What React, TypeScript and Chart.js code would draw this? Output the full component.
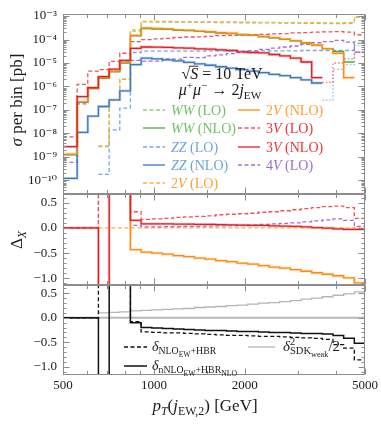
import React, { useEffect, useRef } from "react";
import { Chart, registerables } from "chart.js";

Chart.register(...registerables);

// ---------------- data ----------------
const binEdges = [500, 557, 604, 655, 711, 771, 836, 907, 984, 1067, 1158, 1256, 1362, 1477, 1602, 1738, 1885, 2045, 2218, 2406, 2609, 2830, 3070, 3330, 3612, 3917, 4249, 4609, 5000];

// sigma per bin [pb]; null = no entry, negative = drawn dotted as |value|
const wwLO = [null, null, null, 2.7e-9, 2.6e-7, 2.0e-6, 2.3e-4, 5.7e-4, 5.6e-4, 5.6e-4, 5.5e-4, 5.5e-4, 5.4e-4, 5.4e-4, 5.3e-4, 5.3e-4, 5.2e-4, 5.2e-4, 5.1e-4, 5.1e-4, 5.0e-4, 5.0e-4, 4.9e-4, 4.9e-4, 4.8e-4, 4.8e-4, 4.9e-4, 8.8e-4];
const wwNLO = [1.2e-9, 2.1e-7, 8.1e-7, 2.2e-6, 4.2e-6, 1.0e-5, 1.42e-4, 2.94e-4, 2.8e-4, 2.72e-4, 2.48e-4, 2.4e-4, 2.21e-4, 2.07e-4, 1.88e-4, 1.79e-4, 1.6e-4, 1.5e-4, 1.31e-4, 1.17e-4, 1.02e-4, 8.8e-5, 7.1e-5, 5.6e-5, 4.1e-5, 3.1e-5, 1.1e-5, -5.5e-5];
const zzLO = [null, null, null, 1.8e-10, 1.4e-8, 1.2e-7, 2.8e-5, 3.2e-5, 3.2e-5, 3.2e-5, 3.2e-5, 3.2e-5, 3.2e-5, 3.3e-5, 3.3e-5, 3.3e-5, 3.3e-5, 3.3e-5, 3.3e-5, 3.3e-5, 3.3e-5, 3.3e-5, 3.4e-5, 3.4e-5, 3.4e-5, 3.4e-5, 3.4e-5, 6.9e-5];
const zzNLO = [1.2e-10, 1.1e-8, 5.4e-8, 1.4e-7, 2.7e-7, 6.5e-7, 8.5e-6, 1.6e-5, 1.5e-5, 1.35e-5, 1.23e-5, 1.06e-5, 9.2e-6, 8.0e-6, 6.9e-6, 6.0e-6, 5.2e-6, 4.5e-6, 3.9e-6, 3.3e-6, 2.9e-6, 2.4e-6, 1.9e-6, 1.4e-6, -2.6e-7, -5.3e-6, -8.5e-6, -3.0e-5];
const v2LO = [null, null, null, 2.9e-9, 2.7e-7, 2.1e-6, 2.6e-4, 6.0e-4, 5.9e-4, 5.9e-4, 5.8e-4, 5.8e-4, 5.7e-4, 5.7e-4, 5.6e-4, 5.6e-4, 5.5e-4, 5.5e-4, 5.4e-4, 5.4e-4, 5.3e-4, 5.3e-4, 5.2e-4, 5.2e-4, 5.1e-4, 5.1e-4, 5.2e-4, 9.5e-4];
const v2NLO = [1.3e-9, 2.2e-7, 8.6e-7, 2.3e-6, 4.5e-6, 1.07e-5, 1.5e-4, 3.1e-4, 2.95e-4, 2.85e-4, 2.6e-4, 2.5e-4, 2.3e-4, 2.15e-4, 1.95e-4, 1.85e-4, 1.65e-4, 1.55e-4, 1.35e-4, 1.2e-4, 1.05e-4, 9.0e-5, 7.3e-5, 5.7e-5, 4.1e-5, 2.6e-5, 2.4e-6, -8.5e-5];
const v3LO = [7.1e-9, 1.23e-6, 4.5e-6, 5.2e-6, 1.17e-5, 2.6e-5, 8.1e-5, 1.0e-4, 1.06e-4, 1.12e-4, 1.22e-4, 1.28e-4, 1.31e-4, 1.37e-4, 1.46e-4, 1.51e-4, 1.54e-4, 1.6e-4, 1.67e-4, 1.73e-4, 1.8e-4, 1.91e-4, 1.98e-4, 2.08e-4, 2.14e-4, 2.19e-4, 2.08e-4, 1.6e-4];
const v3NLO = [2.7e-9, 3.7e-7, 8.8e-7, 2.6e-6, 5.5e-6, 1.3e-5, 4.2e-5, 4.8e-5, 4.7e-5, 4.6e-5, 4.4e-5, 4.3e-5, 4.0e-5, 3.9e-5, 3.6e-5, 3.4e-5, 3.0e-5, 2.8e-5, 2.7e-5, 2.3e-5, 2.0e-5, 1.6e-5, 1.1e-5, 2.4e-6, -1.5e-6, -1.0e-5, -1.5e-5, -2.8e-5];
const v4LO = [5.8e-10, 1.8e-7, 8.3e-7, 2.3e-6, 4.4e-6, 1.1e-5, 1.3e-5, 1.2e-5, 1.2e-5, 1.5e-5, 1.45e-5, 1.75e-5, 1.7e-5, 2.0e-5, 2.2e-5, 2.5e-5, 2.75e-5, 3.3e-5, 3.8e-5, 4.3e-5, 4.8e-5, 5.3e-5, 6.2e-5, 7.3e-5, 8.2e-5, 9.2e-5, 7.8e-5, 2.9e-5];

// Delta_X (middle panel); +-5 are off-scale entries
const dV2LO = [null, null, null, 0, 0, 0, 0, 0, 0, 0, 0, 0, 0, 0, 0, 0, 0, 0, 0, 0, 0, 0, 0, 0, 0, 0, 0, 0];
const dV2NLO = [null, null, null, 5, 5, 5, -0.43, -0.48, -0.5, -0.52, -0.55, -0.57, -0.6, -0.62, -0.65, -0.67, -0.7, -0.72, -0.75, -0.78, -0.8, -0.83, -0.86, -0.89, -0.92, -0.95, -0.99, -1.09];
const dV3LO = [0, 0, 0, 5, 5, 5, 0.32, 0.17, 0.18, 0.19, 0.21, 0.22, 0.23, 0.24, 0.26, 0.27, 0.28, 0.29, 0.31, 0.32, 0.34, 0.36, 0.38, 0.4, 0.42, 0.43, 0.4, 0.19];
const dV3NLO = [0, 0, 0, -5, 5, 5, 0.15, 0.08, 0.08, 0.08, 0.075, 0.075, 0.07, 0.07, 0.065, 0.06, 0.055, 0.05, 0.05, 0.04, 0.035, 0.03, 0.02, 0.005, -0.005, -0.02, -0.03, -0.03];
const dV4LO = [0, 0, 0, 5, 5, 5, 0.05, 0.02, 0.02, 0.025, 0.025, 0.03, 0.03, 0.035, 0.04, 0.045, 0.05, 0.06, 0.07, 0.08, 0.09, 0.1, 0.12, 0.14, 0.16, 0.18, 0.15, 0.03];

// delta (bottom panel)
const dNLOHBR = [0, 0, 0, 5, 5, 5, -0.08, -0.29, -0.3, -0.31, -0.31, -0.32, -0.33, -0.34, -0.35, -0.36, -0.36, -0.37, -0.38, -0.38, -0.39, -0.4, -0.41, -0.42, -0.44, -0.55, -0.62, -0.86];
const dNNLO = [0, 0, 0, -5, 5, 5, -0.1, -0.2, -0.21, -0.22, -0.23, -0.24, -0.25, -0.26, -0.26, -0.27, -0.28, -0.28, -0.29, -0.3, -0.3, -0.31, -0.32, -0.32, -0.33, -0.36, -0.42, -0.52];
const dSDK = [null, null, null, 0.1, 0.11, 0.12, 0.14, 0.15, 0.16, 0.17, 0.18, 0.19, 0.21, 0.22, 0.23, 0.25, 0.26, 0.28, 0.3, 0.31, 0.33, 0.35, 0.38, 0.4, 0.43, 0.46, 0.49, 0.53];

// ticks
const topTickExps = [-10, -9, -8, -7, -6, -5, -4, -3];
const deltaTicks = [-1, -0.5, 0, 0.5];
const xMajor = [500, 1000, 2000, 5000];
const xMinor = [600, 700, 800, 900, 1500, 3000, 4000];

// ---------------- style ----------------
const FONT = "'Liberation Serif', 'DejaVu Serif', serif";
const COL = {
  wwLO: "#86cf79", wwNLO: "#4aad3c",
  zzLO: "#74a9df", zzNLO: "#3a77bf",
  v2LO: "#ffad4a", v2NLO: "#ff8a12",
  v3LO: "#ef5359", v3NLO: "#e31e25",
  v4LO: "#a66cc9",
};
const TXT = { ww: "#6fc462", zz: "#6fa3db", v2: "#ffa033", v3: "#e8343a", v4: "#9f6cc3" };

const SUP: Record<string, string> = { "-": "⁻", "0": "⁰", "1": "¹", "2": "²", "3": "³", "4": "⁴", "5": "⁵", "6": "⁶", "7": "⁷", "8": "⁸", "9": "⁹" };
const supStr = (s: string) => s.split("").map((c) => SUP[c] ?? c).join("");

type Seg = { t: string; it?: boolean; lvl?: number; stack?: boolean; over?: boolean };

function segSize(s: Seg, size: number) {
  const l = s.lvl ?? 0;
  return l === 0 ? size : Math.abs(l) === 1 ? size * 0.7 : size * 0.55;
}
function segDy(s: Seg, size: number) {
  const l = s.lvl ?? 0;
  if (l === 1) return -0.38 * size;
  if (l === -1) return 0.22 * size;
  if (l === -2) return 0.4 * size;
  return 0;
}
function setFont(ctx: CanvasRenderingContext2D, s: Seg, size: number) {
  ctx.font = `${s.it ? "italic " : ""}${segSize(s, size).toFixed(2)}px ${FONT}`;
}
function richWidth(ctx: CanvasRenderingContext2D, segs: Seg[], size: number) {
  let w = 0;
  for (const s of segs) {
    setFont(ctx, s, size);
    if (!s.stack) w += ctx.measureText(s.t).width;
  }
  return w;
}
function drawRich(ctx: CanvasRenderingContext2D, segs: Seg[], x: number, y: number, size: number, color: string, align: "left" | "center" = "left") {
  ctx.save();
  ctx.fillStyle = color;
  ctx.strokeStyle = color;
  ctx.textBaseline = "alphabetic";
  ctx.textAlign = "left";
  let cx = align === "center" ? x - richWidth(ctx, segs, size) / 2 : x;
  for (const s of segs) {
    setFont(ctx, s, size);
    const w = ctx.measureText(s.t).width;
    ctx.fillText(s.t, cx, y + segDy(s, size));
    if (s.over) {
      ctx.lineWidth = 0.9;
      ctx.beginPath();
      ctx.moveTo(cx - 1, y - 0.8 * size);
      ctx.lineTo(cx + w, y - 0.8 * size);
      ctx.stroke();
    }
    if (!s.stack) cx += w;
  }
  ctx.restore();
}

function histData(vals: (number | null)[], mode: "all" | "pos" | "neg") {
  const pts: { x: number; y: number | null }[] = [];
  vals.forEach((v, i) => {
    let y: number | null = v;
    if (mode === "pos" && (v === null || v <= 0)) y = null;
    if (mode === "neg") y = v !== null && v < 0 ? -v : null;
    pts.push({ x: binEdges[i], y }, { x: binEdges[i + 1], y });
  });
  return pts;
}

function ds(data: any[], color: string, width = 1.3, dash: number[] = []) {
  return {
    data, borderColor: color, borderWidth: width, borderDash: dash,
    pointRadius: 0, fill: false, tension: 0, spanGaps: false,
    borderCapStyle: "butt", borderJoinStyle: "miter",
  };
}
const hexA = (hex: string, a: number) => {
  const n = parseInt(hex.slice(1), 16);
  return `rgba(${(n >> 16) & 255},${(n >> 8) & 255},${n & 255},${a})`;
};

const DASH = [4, 2.5];
const DOT = [1.5, 2];

function makeDecor(cfg: { yMajor: number[]; yMinor: number[]; zero?: boolean; extra?: (c: any) => void }) {
  return {
    id: "decor",
    beforeDatasetsDraw(chart: any) {
      if (!cfg.zero) return;
      const { ctx, chartArea: a, scales } = chart;
      const y0 = scales.y.getPixelForValue(0);
      ctx.save();
      ctx.strokeStyle = "#b9b9b9";
      ctx.lineWidth = 2;
      ctx.beginPath();
      ctx.moveTo(a.left, y0);
      ctx.lineTo(a.right, y0);
      ctx.stroke();
      ctx.restore();
    },
    afterDraw(chart: any) {
      const { ctx, chartArea: a, scales } = chart;
      ctx.save();
      ctx.strokeStyle = "#8c8c8c";
      ctx.lineWidth = 1;
      const L = Math.round(a.left) + 0.5, R = Math.round(a.right) - 0.5;
      const T = Math.round(a.top) + 0.5, B = Math.round(a.bottom) - 0.5;
      ctx.strokeRect(L, T, R - L, B - T);
      ctx.beginPath();
      const tickX = (v: number, len: number) => {
        const p = Math.round(scales.x.getPixelForValue(v)) + 0.5;
        ctx.moveTo(p, B); ctx.lineTo(p, B - len);
        ctx.moveTo(p, T); ctx.lineTo(p, T + len);
      };
      const tickY = (v: number, len: number) => {
        const p = Math.round(scales.y.getPixelForValue(v)) + 0.5;
        if (p < T || p > B) return;
        ctx.moveTo(L, p); ctx.lineTo(L + len, p);
        ctx.moveTo(R, p); ctx.lineTo(R - len, p);
      };
      xMajor.forEach((v) => tickX(v, 6));
      xMinor.forEach((v) => tickX(v, 3.5));
      cfg.yMajor.forEach((v) => tickY(v, 6));
      cfg.yMinor.forEach((v) => tickY(v, 3));
      ctx.stroke();
      ctx.restore();
      if (cfg.extra) cfg.extra(chart);
    },
  };
}

const tickFont = { family: FONT, size: 13 };
const xHidden = { type: "logarithmic", min: 500, max: 5000, display: false };
function yDelta(min: number, max: number) {
  return {
    type: "linear", min, max,
    afterBuildTicks: (s: any) => { s.ticks = deltaTicks.map((v) => ({ value: v })); },
    afterFit: (s: any) => { s.width = 63; },
    ticks: { autoSkip: false, padding: 6, color: "#1a1a1a", font: tickFont, callback: (v: number) => (v < 0 ? "−" : "") + Math.abs(v).toFixed(1) },
    grid: { display: false, drawTicks: false, tickLength: 0 },
    border: { display: false },
  };
}
function baseOpts(top: number, bottom: number, scales: any) {
  return {
    responsive: false, animation: false, events: [],
    layout: { padding: { top, bottom, left: 0, right: 16 } },
    plugins: { legend: { display: false }, tooltip: { enabled: false }, title: { display: false } },
    scales,
  };
}
const deltaMinor: number[] = [];
for (let i = -11; i <= 6; i++) deltaMinor.push(i / 10);

function lineRow(ctx: CanvasRenderingContext2D, x1: number, x2: number, y: number, color: string, dash: number[], w = 1.3) {
  ctx.save();
  ctx.strokeStyle = color;
  ctx.lineWidth = w;
  ctx.setLineDash(dash);
  ctx.beginPath();
  ctx.moveTo(x1, y);
  ctx.lineTo(x2, y);
  ctx.stroke();
  ctx.restore();
}

const BAND_W = 2.8;
const BAND_A = 0.28;

function topConfig() {
  const layers = [
    ds(histData(zzNLO, "pos"), hexA(COL.zzNLO, BAND_A), BAND_W),
    ds(histData(v3NLO, "pos"), hexA(COL.v3NLO, BAND_A), BAND_W),
    ds(histData(v2NLO, "pos"), hexA(COL.v2NLO, BAND_A), BAND_W),
    ds(histData(zzNLO, "neg"), hexA(COL.zzLO, 0.8), 1.3, DOT),
    ds(histData(v3NLO, "neg"), hexA(COL.v3LO, 0.8), 1.3, DOT),
    ds(histData(wwNLO, "neg"), hexA(COL.wwLO, 0.8), 1.3, DOT),
    ds(histData(v2NLO, "neg"), hexA(COL.v2LO, 0.8), 1.3, DOT),
    ds(histData(zzLO, "all"), COL.zzLO, 1.3, DASH),
    ds(histData(v4LO, "all"), COL.v4LO, 1.3, DASH),
    ds(histData(v3LO, "all"), COL.v3LO, 1.3, DASH),
    ds(histData(wwLO, "all"), COL.wwLO, 1.3, DASH),
    ds(histData(v2LO, "all"), COL.v2LO, 1.3, DASH),
    ds(histData(zzNLO, "pos"), COL.zzNLO, 1.3),
    ds(histData(wwNLO, "pos"), COL.wwNLO, 1.3),
    ds(histData(v2NLO, "pos"), COL.v2NLO, 1.3),
    ds(histData(v3NLO, "pos"), COL.v3NLO, 1.3),
  ].reverse();
  const yMajor = topTickExps.map((e) => Math.pow(10, e));
  const yMinor: number[] = [];
  for (let e = -11; e <= -3; e++) for (let m = 2; m <= 9; m++) yMinor.push(m * Math.pow(10, e));
  const legend = [
    { x: 143, y: 110, segs: [{ t: "WW", it: true }, { t: " (LO)" }], c: COL.wwLO, d: DASH, tc: TXT.ww },
    { x: 143, y: 128, segs: [{ t: "WW", it: true }, { t: " (NLO)" }], c: COL.wwNLO, d: [], tc: TXT.ww },
    { x: 143, y: 147, segs: [{ t: "ZZ", it: true }, { t: " (LO)" }], c: COL.zzLO, d: DASH, tc: TXT.zz },
    { x: 143, y: 165, segs: [{ t: "ZZ", it: true }, { t: " (NLO)" }], c: COL.zzNLO, d: [], tc: TXT.zz },
    { x: 143, y: 183, segs: [{ t: "2" }, { t: "V", it: true }, { t: " (LO)" }], c: COL.v2LO, d: DASH, tc: TXT.v2 },
    { x: 238, y: 110, segs: [{ t: "2" }, { t: "V", it: true }, { t: " (NLO)" }], c: COL.v2NLO, d: [], tc: TXT.v2 },
    { x: 238, y: 128, segs: [{ t: "3" }, { t: "V", it: true }, { t: " (LO)" }], c: COL.v3LO, d: DASH, tc: TXT.v3 },
    { x: 238, y: 147, segs: [{ t: "3" }, { t: "V", it: true }, { t: " (NLO)" }], c: COL.v3NLO, d: [], tc: TXT.v3 },
    { x: 238, y: 165, segs: [{ t: "4" }, { t: "V", it: true }, { t: " (LO)" }], c: COL.v4LO, d: DASH, tc: TXT.v4 },
  ];
  const extra = (chart: any) => {
    const ctx: CanvasRenderingContext2D = chart.ctx;
    // y title
    ctx.save();
    ctx.translate(16, 100);
    ctx.rotate(-Math.PI / 2);
    drawRich(ctx, [{ t: "σ", it: true }, { t: " per bin [pb]" }], 0, 6, 17, "#1a1a1a", "center");
    ctx.restore();
    // annotation
    drawRich(ctx, [{ t: "√" }, { t: "S", it: true, over: true }, { t: " = 10 TeV" }], 222, 79, 16, "#1a1a1a", "center");
    drawRich(ctx, [{ t: "μ", it: true }, { t: "+", lvl: 1 }, { t: "μ", it: true }, { t: "−", lvl: 1 }, { t: " → 2" }, { t: "j", it: true }, { t: "EW", lvl: -1 }], 220, 95, 16, "#1a1a1a", "center");
    for (const r of legend) {
      lineRow(ctx, r.x, r.x + 22, r.y, r.c, r.d);
      drawRich(ctx, r.segs, r.x + 28, r.y + 5, 14, r.tc);
    }
  };
  return {
    type: "line",
    data: { datasets: layers },
    options: baseOpts(13, 234, {
      x: xHidden,
      y: {
        type: "logarithmic", min: 2.6e-11, max: 1.25e-3,
        afterBuildTicks: (s: any) => { s.ticks = yMajor.map((v) => ({ value: v })); },
        afterFit: (s: any) => { s.width = 63; },
        ticks: { autoSkip: false, padding: 6, color: "#1a1a1a", font: tickFont, callback: (v: number) => "10" + supStr(String(Math.round(Math.log10(v)))) },
        grid: { display: false, drawTicks: false, tickLength: 0 },
        border: { display: false },
      },
    }),
    plugins: [makeDecor({ yMajor, yMinor, extra })],
  };
}

function midConfig() {
  const layers = [
    ds(histData(dV2NLO, "all"), hexA(COL.v2NLO, BAND_A), BAND_W),
    ds(histData(dV3NLO, "all"), hexA(COL.v3NLO, BAND_A), BAND_W),
    ds(histData(dV2LO, "all"), COL.v2LO, 1.3, DASH),
    ds(histData(dV4LO, "all"), COL.v4LO, 1.3, DASH),
    ds(histData(dV3LO, "all"), COL.v3LO, 1.3, DASH),
    ds(histData(dV2NLO, "all"), COL.v2NLO, 1.3),
    ds(histData(dV3NLO, "all"), COL.v3NLO, 1.3),
  ].reverse();
  const extra = (chart: any) => {
    const ctx: CanvasRenderingContext2D = chart.ctx;
    ctx.save();
    ctx.translate(16, 240);
    ctx.rotate(-Math.PI / 2);
    drawRich(ctx, [{ t: "Δ" }, { t: "X", it: true, lvl: -1 }], 0, 6, 17, "#1a1a1a", "center");
    ctx.restore();
  };
  return {
    type: "line",
    data: { datasets: layers },
    options: baseOpts(194, 143, { x: xHidden, y: yDelta(-1.133, 0.672) }),
    plugins: [makeDecor({ yMajor: deltaTicks, yMinor: deltaMinor, extra })],
  };
}

function botConfig() {
  const layers = [
    ds(histData(dSDK, "all"), "#b5b5b5", 1.3),
    ds(histData(dNLOHBR, "all"), "#111111", 1.3, DASH),
    ds(histData(dNNLO, "all"), "#111111", 1.5),
  ].reverse();
  const extra = (chart: any) => {
    const ctx: CanvasRenderingContext2D = chart.ctx;
    lineRow(ctx, 124, 147, 347, "#111111", DASH);
    drawRich(ctx, [{ t: "δ", it: true }, { t: "NLO", lvl: -1 }, { t: "EW", lvl: -2 }, { t: "+HBR", lvl: -1 }], 152, 351, 14, "#1a1a1a");
    lineRow(ctx, 124, 147, 366, "#111111", [], 1.5);
    drawRich(ctx, [{ t: "δ", it: true }, { t: "nNLO", lvl: -1 }, { t: "EW", lvl: -2 }, { t: "+HBR", lvl: -1 }, { t: "NLO", lvl: -2 }], 152, 370, 14, "#1a1a1a");
    lineRow(ctx, 248, 275, 347, "#b5b5b5", []);
    drawRich(ctx, [{ t: "δ", it: true }, { t: "2", lvl: 1, stack: true }, { t: "SDK", lvl: -1 }, { t: "weak", lvl: -2 }, { t: "/2" }], 283, 351, 15, "#1a1a1a");
    // x title
    drawRich(ctx, [{ t: "p", it: true }, { t: "T", it: true, lvl: -1 }, { t: "(" }, { t: "j", it: true }, { t: "EW,2", lvl: -1 }, { t: ") [GeV]" }], 205, 411, 17, "#1a1a1a", "center");
  };
  return {
    type: "line",
    data: { datasets: layers },
    options: baseOpts(285, 0, {
      x: {
        type: "logarithmic", min: 500, max: 5000, position: "bottom",
        afterBuildTicks: (s: any) => { s.ticks = xMajor.map((v) => ({ value: v })); },
        afterFit: (s: any) => { s.height = 53; },
        ticks: { autoSkip: false, maxRotation: 0, minRotation: 0, padding: 3, color: "#1a1a1a", font: tickFont, callback: (v: number) => String(v) },
        grid: { display: false, drawTicks: false, tickLength: 0 },
        border: { display: false },
      },
      y: yDelta(-1.17, 0.67),
    }),
    plugins: [makeDecor({ yMajor: deltaTicks, yMinor: deltaMinor, zero: true, extra })],
  };
}

export default function App() {
  const r1 = useRef<HTMLCanvasElement>(null);
  const r2 = useRef<HTMLCanvasElement>(null);
  const r3 = useRef<HTMLCanvasElement>(null);
  useEffect(() => {
    const charts = [
      new Chart(r1.current as HTMLCanvasElement, topConfig() as any),
      new Chart(r2.current as HTMLCanvasElement, midConfig() as any),
      new Chart(r3.current as HTMLCanvasElement, botConfig() as any),
    ];
    return () => charts.forEach((c) => c.destroy());
  }, []);
  const cs: React.CSSProperties = { position: "absolute", left: 0, top: 0, width: 381, height: 428 };
  return (
    <div style={{ position: "fixed", left: 0, top: 0, width: 381, height: 428, background: "#fff", overflow: "hidden" }}>
      <canvas ref={r1} width={381} height={428} style={cs} />
      <canvas ref={r2} width={381} height={428} style={cs} />
      <canvas ref={r3} width={381} height={428} style={cs} />
    </div>
  );
}
